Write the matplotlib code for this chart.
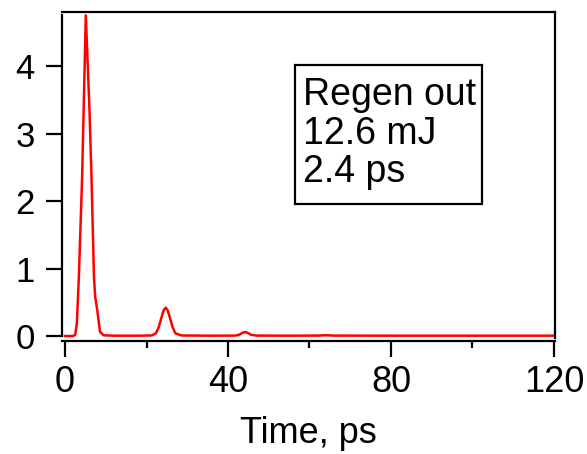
import numpy as np
import matplotlib
matplotlib.use('Agg')
import matplotlib.pyplot as plt
from matplotlib.patches import Rectangle
from matplotlib.ticker import MultipleLocator

plt.rcParams['font.family'] = ['Liberation Sans', 'DejaVu Sans']

# ------------------------------------------------------------
# Data (time in ps, signal in arb. units)
# ------------------------------------------------------------
time_ps = [0.0, 1.0, 2.0, 2.5, 2.9, 3.4, 4.2, 5.1, 6.0, 6.5, 7.1, 7.4,
           7.9, 8.6, 9.5, 12.0, 18.0, 21.3, 22.3, 23.0, 23.6, 24.2, 24.7,
           25.2, 25.8, 26.4, 27.1, 28.6, 35.0, 41.7, 42.8, 43.5, 44.2,
           44.9, 45.6, 47.0, 55.0, 62.0, 64.0, 66.0, 80.0, 100.0, 120.0]
signal = [0.0, 0.0, 0.0, 0.02, 0.18, 0.88, 2.36, 4.75, 3.36, 2.36, 0.88,
          0.58, 0.39, 0.06, 0.01, 0.005, 0.005, 0.008, 0.04, 0.13, 0.26,
          0.38, 0.42, 0.38, 0.26, 0.13, 0.04, 0.008, 0.005, 0.006, 0.02,
          0.045, 0.06, 0.045, 0.02, 0.006, 0.005, 0.006, 0.012, 0.006,
          0.005, 0.005, 0.005]

x_major = [0, 40, 80, 120]
y_major = [0, 1, 2, 3, 4]
box_lines = ['Regen out', '12.6 mJ', '2.4 ps']

# ------------------------------------------------------------
# Plot
# ------------------------------------------------------------
W, H = 587, 454
fig = plt.figure(figsize=(W / 100, H / 100), dpi=100)
ax = fig.add_axes([62 / W, (H - 337.5) / H, (555 - 62) / W, (337.5 - 12) / H])

ax.plot(time_ps, signal, color='#ff0000', linewidth=1.8)

ax.set_xlim(-0.74, 120.25)
ax.set_ylim(-0.022, 4.8)

ax.set_xticks(x_major)
ax.xaxis.set_minor_locator(MultipleLocator(20))
ax.set_yticks(y_major)

for s in ax.spines.values():
    s.set_linewidth(1.6)
ax.spines['bottom'].set_position(('outward', 2.5))
ax.spines['left'].set_bounds(0, 4.76)

ax.tick_params(axis='x', which='major', direction='out', length=11.5,
               width=1.6, labelsize=26, pad=6)
ax.tick_params(axis='x', which='minor', direction='out', length=5, width=1.6)
ax.tick_params(axis='y', which='major', direction='out', length=11.5,
               width=1.6, labelsize=25, pad=8)

ax.set_xlabel('Time, ps', fontsize=26, labelpad=11)

# annotation box
ax.add_patch(Rectangle((0.473, 0.41), 0.379, 0.427, transform=ax.transAxes,
                       fill=False, edgecolor='black', linewidth=1.6))
ax.text(0.489, 0.478, '\n'.join(box_lines), transform=ax.transAxes,
        fontsize=27, va='baseline', ha='left', linespacing=1.08)

fig.savefig('out.png', dpi=100)
